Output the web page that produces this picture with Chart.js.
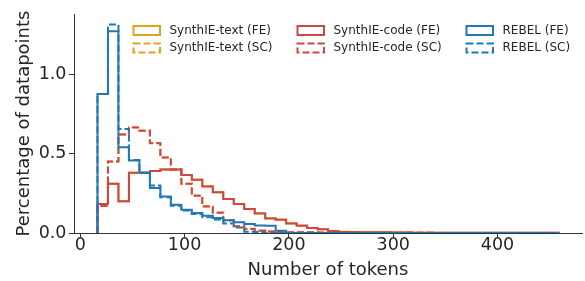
<!DOCTYPE html>
<html lang="en">
<head>
    <meta charset="UTF-8">
    <title>Number of tokens per datapoint</title>
    <style>
        html, body { margin: 0; padding: 0; background: #fff; }
        #wrap { width: 585px; height: 281px; }
    </style>
</head>
<body>
    <div id="wrap">
        <canvas id="tokensChart" width="585" height="281"></canvas>
    </div>
    <script src="https://cdn.jsdelivr.net/npm/chart.js@4.4.1/dist/chart.umd.min.js"></script>
    <script>
        // histogram bins (token counts)
        const binStart = 16.5;
        const binWidth = 10.05;

        const xTicks = [0, 100, 200, 300, 400];
        const yTicks = [0, 0.5, 1.0];

        // percentage of datapoints per bin
        const textFE = [0.182, 0.31, 0.20, 0.38, 0.38, 0.39, 0.40, 0.40, 0.366, 0.336, 0.294, 0.257, 0.215, 0.183, 0.152, 0.124, 0.093, 0.085, 0.061, 0.047, 0.032, 0.023, 0.013, 0.008, 0.006, 0.005, 0.004, 0.004, 0.003, 0.003, 0.002, 0.002, 0.002, 0.002, 0.001, 0.001, 0.001, 0.001, 0.001, 0.001, 0.001, 0.001, 0.001, 0.001];
        const textSC = [0.17, 0.45, 0.62, 0.666, 0.646, 0.567, 0.476, 0.40, 0.311, 0.236, 0.168, 0.129, 0.081, 0.043, 0.026, 0.015, 0.01, 0.006, 0.005, 0.004, 0.004, 0.003, 0.002, 0.002, 0.002, 0.001, 0.001, 0.001, 0.001, 0.001, 0.001, 0.001, 0, 0, 0, 0, 0, 0, 0, 0, 0, 0, 0, 0];
        const codeFE = [0.182, 0.31, 0.20, 0.38, 0.38, 0.39, 0.40, 0.40, 0.365, 0.335, 0.293, 0.256, 0.214, 0.182, 0.151, 0.123, 0.092, 0.084, 0.060, 0.046, 0.031, 0.023, 0.013, 0.007, 0.006, 0.005, 0.004, 0.004, 0.003, 0.003, 0.002, 0.002, 0.002, 0.002, 0.001, 0.001, 0.001, 0.001, 0.001, 0.001, 0.001, 0.001, 0.001, 0.001];
        const codeSC = [0.17, 0.45, 0.62, 0.665, 0.645, 0.566, 0.475, 0.40, 0.31, 0.235, 0.167, 0.128, 0.08, 0.042, 0.025, 0.014, 0.01, 0.006, 0.005, 0.004, 0.004, 0.003, 0.002, 0.002, 0.002, 0.001, 0.001, 0.001, 0.001, 0.001, 0.001, 0.001, 0, 0, 0, 0, 0, 0, 0, 0, 0, 0, 0, 0];
        const rebelFE = [0.876, 1.272, 0.54, 0.457, 0.38, 0.283, 0.23, 0.178, 0.147, 0.126, 0.109, 0.094, 0.08, 0.067, 0.057, 0.047, 0.046, 0.014, 0, 0, 0, 0, 0, 0, 0, 0, 0, 0, 0, 0, 0, 0, 0, 0, 0, 0, 0, 0, 0, 0, 0, 0, 0, 0];
        const rebelSC = [0.876, 1.314, 0.656, 0.46, 0.38, 0.30, 0.225, 0.172, 0.142, 0.12, 0.10, 0.085, 0.06, 0.035, 0.008, 0.006, 0, 0, 0, 0, 0, 0, 0, 0, 0, 0, 0, 0, 0, 0, 0, 0, 0, 0, 0, 0, 0, 0, 0, 0, 0, 0, 0, 0];

        const ORANGE = '#e3a21a';
        const RED = '#cf4647';
        const BLUE = '#2178b4';
        const DASH = [7, 3];

        function edge(i) {
            return binStart + i * binWidth;
        }

        // outline of a step histogram: up from baseline, across each bin, back down
        function stepPoints(values) {
            const pts = [{ x: edge(0), y: 0 }];
            values.forEach((v, i) => pts.push({ x: edge(i), y: v }));
            pts.push({ x: edge(values.length), y: 0 });
            return pts;
        }

        function series(label, values, color, dashed, order) {
            return {
                label: label,
                data: stepPoints(values),
                borderColor: color,
                borderWidth: 2,
                borderDash: dashed ? DASH : [],
                stepped: true,
                pointRadius: 0,
                fill: false,
                order: order
            };
        }

        // legend drawn inside the plot, 3 columns x 2 rows
        const insideLegend = {
            id: 'insideLegend',
            afterDraw(chart) {
                const ctx = chart.ctx;
                const colX = [133.5, 297.5, 466.5];
                const rowY = [26, 43.5];
                ctx.save();
                chart.data.datasets.forEach((ds, i) => {
                    const x = colX[Math.floor(i / 2)];
                    const y = rowY[i % 2];
                    ctx.strokeStyle = ds.borderColor;
                    ctx.lineWidth = 2;
                    ctx.setLineDash(ds.borderDash);
                    ctx.strokeRect(x, y, 26.5, 9);
                    ctx.setLineDash([]);
                    ctx.fillStyle = '#262626';
                    ctx.font = '12px "DejaVu Sans"';
                    ctx.textBaseline = 'middle';
                    ctx.fillText(ds.label, x + 36, y + 4.5);
                });
                ctx.restore();
            }
        };

        Chart.defaults.font.family = '"DejaVu Sans", sans-serif';
        Chart.defaults.color = '#262626';

        const ctx = document.getElementById('tokensChart').getContext('2d');
        new Chart(ctx, {
            type: 'line',
            data: {
                datasets: [
                    series('SynthIE-text (FE)', textFE, ORANGE, false, 6),
                    series('SynthIE-text (SC)', textSC, ORANGE, true, 5),
                    series('SynthIE-code (FE)', codeFE, RED, false, 4),
                    series('SynthIE-code (SC)', codeSC, RED, true, 3),
                    series('REBEL (FE)', rebelFE, BLUE, false, 2),
                    series('REBEL (SC)', rebelSC, BLUE, true, 1)
                ]
            },
            options: {
                responsive: false,
                devicePixelRatio: 1,
                animation: false,
                layout: { padding: { top: 14, right: 3, left: 0, bottom: 0 } },
                plugins: {
                    legend: { display: false },
                    tooltip: { enabled: false }
                },
                scales: {
                    x: {
                        type: 'linear',
                        min: -6,
                        max: 481,
                        afterFit: s => { s.height = 48; },
                        afterBuildTicks: s => { s.ticks = xTicks.map(v => ({ value: v })); },
                        ticks: {
                            font: { size: 17.5 },
                            padding: -3,
                            maxRotation: 0,
                            includeBounds: false
                        },
                        grid: {
                            drawOnChartArea: false,
                            tickLength: 5,
                            tickColor: '#333'
                        },
                        border: { color: '#333', width: 1 },
                        title: {
                            display: true,
                            text: 'Number of tokens',
                            font: { size: 18 },
                            padding: { top: 0, bottom: 0 }
                        }
                    },
                    y: {
                        min: 0,
                        max: 1.38,
                        afterFit: s => { s.width = 74; },
                        afterBuildTicks: s => { s.ticks = yTicks.map(v => ({ value: v })); },
                        ticks: {
                            font: { size: 17.5 },
                            padding: 2.5,
                            callback: v => v.toFixed(1),
                            includeBounds: false
                        },
                        grid: {
                            drawOnChartArea: false,
                            tickLength: 5,
                            tickColor: '#333'
                        },
                        border: { color: '#333', width: 1 },
                        title: {
                            display: true,
                            text: 'Percentage of datapoints',
                            font: { size: 18 },
                            padding: { top: 14, bottom: 0 }
                        }
                    }
                }
            },
            plugins: [insideLegend]
        });
    </script>
</body>
</html>
